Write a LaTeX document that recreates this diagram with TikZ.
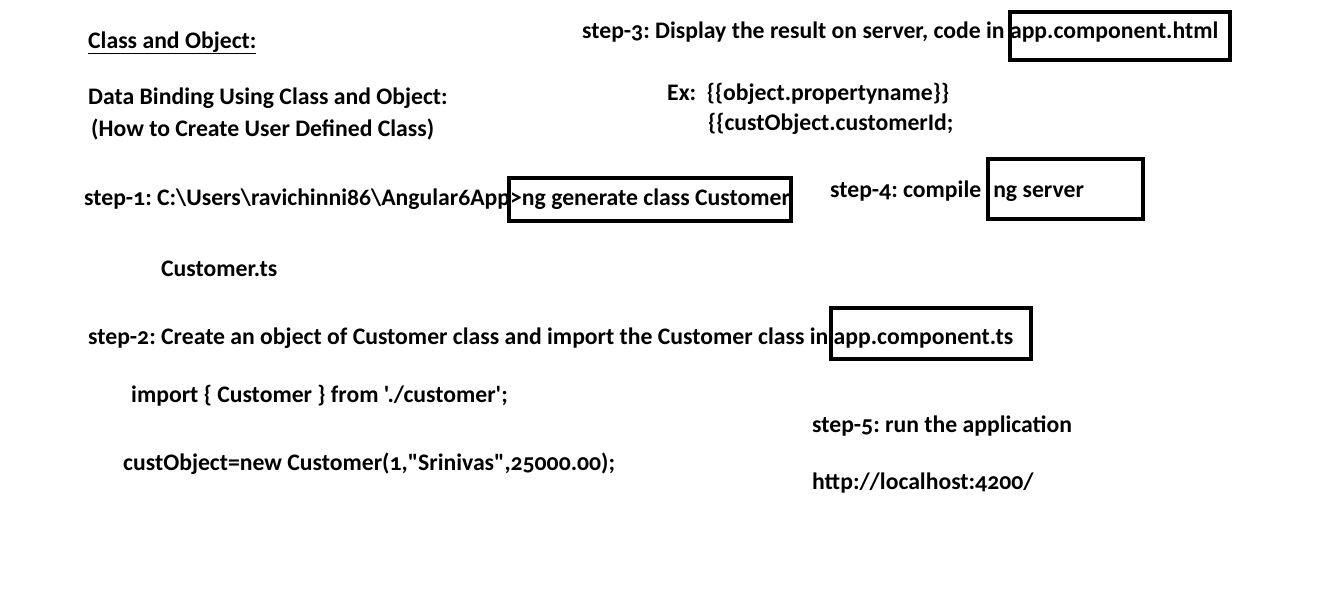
\documentclass[tikz,border=0pt]{standalone}
\usepackage{fontspec}
\setmainfont{Carlito}[Numbers=OldStyle,Ligatures=TeXOff]
\frenchspacing
\begin{document}
\begin{tikzpicture}[x=1pt,y=-1pt,
  txt/.style={anchor=base west,inner sep=0pt,font=\fontsize{23.7}{28}\selectfont\bfseries},
  boxst/.style={draw,line width=4pt,inner sep=0pt,anchor=north west}]
\useasboundingbox[fill=white] (0,0) rectangle (1324,592);
\node[txt] (title) at (88,48) {\underline{Class and Object:}};
\node[txt] (db) at (88,104) {Data Binding Using Class and Object:};
\node[txt] (how) at (91,136) {(How to Create User Defined Class)};
\node[txt] (s3) at (582,38) {step-3: Display the result on server, code in app.component.html};
\node[boxst,minimum width=220pt,minimum height=48pt] (b3) at (1008,10) {};
\node[txt] (ex) at (667,100) {Ex:\ \ \{\{object.propertyname\}\}};
\node[txt] (ex2) at (708,130) {\{\{custObject.customerId;};
\node[txt] (s1) at (84,205) {step-1: C:\textbackslash Users\textbackslash ravichinni86\textbackslash Angular6App>ng generate class Customer};
\node[boxst,minimum width=282pt,minimum height=43pt] (b1) at (507,176) {};
\node[txt] (s4) at (830,197) {step-4: compile\hspace{12pt}ng server};
\node[boxst,minimum width=155pt,minimum height=60pt] (b4) at (986,157) {};
\node[txt] (cts) at (161,276) {Customer.ts};
\node[txt] (s2) at (88,344) {step-2: Create an object of Customer class and import the Customer class in app.component.ts};
\node[boxst,minimum width=200pt,minimum height=51pt] (b2) at (829,306) {};
\node[txt] (imp) at (131,402) {import \{ Customer \} from './customer';};
\node[txt] (co) at (123,470) {custObject=new Customer(1,"Srinivas",25000.00);};
\node[txt] (s5) at (812,432) {step-5: run the application};
\node[txt] (url) at (812,489) {http://localhost:4200/};
\end{tikzpicture}
\end{document}
